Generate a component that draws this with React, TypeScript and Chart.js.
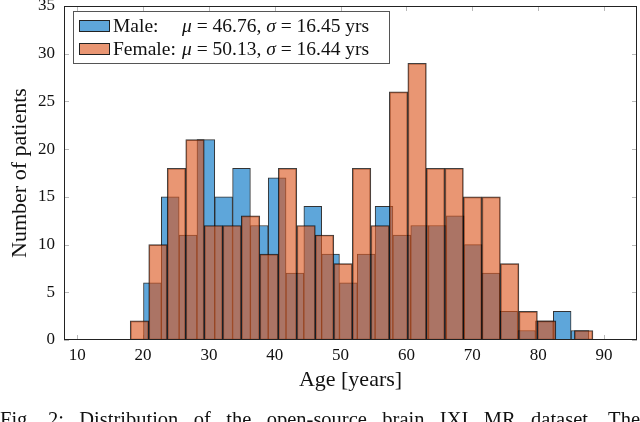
import React, { useEffect, useRef } from "react";
import { Chart, registerables } from "chart.js";

Chart.register(...registerables);

// ---- Data ----
const maleBinCenters = [
  21.42, 24.13, 26.83, 29.54, 32.24, 34.95, 37.65, 40.36, 43.06, 45.77, 48.47, 51.18, 53.88,
  56.59, 59.29, 62.0, 64.7, 67.41, 70.11, 72.82, 75.52, 78.23, 80.93, 83.64, 86.34,
];
const maleCounts = [6, 15, 11, 21, 15, 18, 12, 17, 7, 14, 9, 6, 9, 14, 11, 12, 12, 13, 10, 7, 3, 1, 2, 3, 1];

const femaleBinCenters = [
  19.46, 22.27, 25.08, 27.89, 30.7, 33.51, 36.32, 39.13, 41.94, 44.75, 47.56, 50.37, 53.18,
  55.99, 58.8, 61.61, 64.42, 67.23, 70.04, 72.85, 75.66, 78.47, 81.28, 84.09, 86.9,
];
const femaleCounts = [2, 10, 18, 21, 12, 12, 13, 9, 18, 12, 11, 8, 18, 12, 26, 29, 18, 18, 15, 15, 8, 3, 2, 0, 1];

const seriesNames = ["Male:", "Female:"];
const seriesMeans = [46.76, 50.13];
const seriesStds = [16.45, 16.44];

const xTicks = [10, 20, 30, 40, 50, 60, 70, 80, 90];
const yTicks = [0, 5, 10, 15, 20, 25, 30, 35];
const xLabel = "Age [years]";
const yLabel = "Number of patients";
const caption = "Fig. 2: Distribution of the open-source brain IXI MR dataset. The";

// ---- Styles ----
const FONT = "'Liberation Serif', 'Times New Roman', 'DejaVu Serif', serif";
const MALE_FILL = "rgb(94,166,218)";
const FEMALE_FILL = "rgba(220,86,29,0.62)";
const MALE_EDGE = "rgba(15,15,15,0.85)";
const FEMALE_EDGE = "rgba(0,0,0,0.75)";

const ticksPlugin = {
  id: "pgfTicks",
  beforeDatasetsDraw(chart: any) {
    const { ctx, chartArea, scales } = chart;
    const { left, right, top, bottom } = chartArea;
    const L = 5;
    ctx.save();
    ctx.strokeStyle = "rgba(0,0,0,0.28)";
    ctx.lineWidth = 1;
    ctx.beginPath();
    for (const v of xTicks) {
      const px = Math.round(scales.x.getPixelForValue(v)) + 0.5;
      ctx.moveTo(px, bottom);
      ctx.lineTo(px, bottom - L);
      ctx.moveTo(px, top);
      ctx.lineTo(px, top + L);
    }
    for (const v of yTicks) {
      const py = Math.round(scales.y.getPixelForValue(v)) + 0.5;
      ctx.moveTo(left, py);
      ctx.lineTo(left + L, py);
      ctx.moveTo(right, py);
      ctx.lineTo(right - L, py);
    }
    ctx.stroke();
    ctx.restore();
  },
  afterDatasetsDraw(chart: any) {
    const { ctx, chartArea } = chart;
    const { left, right, top, bottom } = chartArea;
    ctx.save();
    ctx.strokeStyle = "#222";
    ctx.lineWidth = 1;
    ctx.strokeRect(left + 0.5, top + 0.5, right - left - 1, bottom - top - 1);
    ctx.restore();
  },
};

const legendPlugin = {
  id: "insideLegend",
  afterDraw(chart: any) {
    const { ctx, chartArea } = chart;
    const bx = chartArea.left + 9;
    const by = chartArea.top + 5;
    const bw = 316;
    const bh = 52;
    ctx.save();
    ctx.fillStyle = "#fff";
    ctx.fillRect(bx, by, bw, bh);
    ctx.strokeStyle = "#555";
    ctx.lineWidth = 1;
    ctx.strokeRect(bx + 0.5, by + 0.5, bw, bh);
    chart.data.datasets.forEach((ds: any, i: number) => {
      const cy = by + 15 + i * 23;
      ctx.fillStyle = ds.backgroundColor;
      ctx.fillRect(bx + 6, cy - 6, 31, 12);
      ctx.strokeStyle = "#222";
      ctx.strokeRect(bx + 6.5, cy - 5.5, 30, 11);
      ctx.fillStyle = "#111";
      ctx.textBaseline = "middle";
      ctx.font = `19.5px ${FONT}`;
      ctx.fillText(seriesNames[i], bx + 40, cy + 1);
      let x = bx + 109;
      const parts: [string, boolean][] = [
        ["\u03bc", true],
        [` = ${seriesMeans[i].toFixed(2)}, `, false],
        ["\u03c3", true],
        [` = ${seriesStds[i].toFixed(2)} yrs`, false],
      ];
      for (const [t, it] of parts) {
        ctx.font = `${it ? "italic " : ""}19.5px ${FONT}`;
        ctx.fillText(t, x, cy + 1);
        x += ctx.measureText(t).width;
      }
    });
    ctx.restore();
  },
};

export default function App() {
  const canvasRef = useRef<HTMLCanvasElement | null>(null);

  useEffect(() => {
    if (!canvasRef.current) return;
    const chart = new Chart(canvasRef.current, {
      type: "bar",
      data: {
        datasets: [
          {
            label: seriesNames[0],
            data: maleBinCenters.map((x, i) => ({ x, y: maleCounts[i] })),
            backgroundColor: MALE_FILL,
            borderColor: MALE_EDGE,
            borderWidth: 1,
            borderSkipped: false,
            xAxisID: "x",
            grouped: false,
            barPercentage: 1,
            categoryPercentage: 1,
            order: 2,
          },
          {
            label: seriesNames[1],
            data: femaleBinCenters.map((x, i) => ({ x, y: femaleCounts[i] })),
            backgroundColor: FEMALE_FILL,
            borderColor: FEMALE_EDGE,
            borderWidth: 1,
            borderSkipped: false,
            xAxisID: "x2",
            grouped: false,
            barPercentage: 1,
            categoryPercentage: 1,
            order: 1,
          },
        ] as any,
      },
      options: {
        responsive: false,
        animation: false,
        devicePixelRatio: 1,
        layout: { padding: { top: 6, right: 3, left: 0, bottom: 0 } },
        plugins: { legend: { display: false }, tooltip: { enabled: false } },
        scales: {
          x: {
            type: "linear",
            min: 8,
            max: 95,
            offset: false,
            grid: { display: false, drawTicks: false, offset: false },
            border: { display: false },
            ticks: {
              stepSize: 10,
              includeBounds: false,
              padding: 5,
              color: "#111",
              font: { family: FONT, size: 17 },
              maxRotation: 0,
            },
            title: {
              display: true,
              text: xLabel,
              color: "#111",
              font: { family: FONT, size: 22 },
              padding: { top: 0, bottom: 29 },
            },
            afterFit: (s: any) => {
              s.height = 82;
              s.paddingLeft = 0;
              s.paddingRight = 0;
            },
          },
          x2: {
            type: "linear",
            display: false,
            min: 8,
            max: 95,
            offset: false,
            grid: { display: false, offset: false },
            ticks: { stepSize: 10, includeBounds: false },
          },
          y: {
            type: "linear",
            min: 0,
            max: 35,
            grid: { display: false, drawTicks: false },
            border: { display: false },
            ticks: {
              stepSize: 5,
              padding: 9,
              color: "#111",
              font: { family: FONT, size: 17 },
            },
            title: {
              display: true,
              text: yLabel,
              color: "#111",
              font: { family: FONT, size: 22 },
              padding: { top: 7, bottom: 0 },
            },
            afterFit: (s: any) => {
              s.width = 64;
              s.paddingTop = 0;
              s.paddingBottom = 0;
            },
          },
        },
      } as any,
      plugins: [ticksPlugin, legendPlugin],
    });
    return () => chart.destroy();
  }, []);

  return (
    <div
      style={{
        position: "absolute",
        left: 0,
        top: 0,
        width: 640,
        height: 422,
        overflow: "hidden",
        background: "#fff",
      }}
    >
      <canvas ref={canvasRef} width={640} height={422} style={{ display: "block" }} />
      <div
        style={{
          position: "absolute",
          left: 0,
          top: 409,
          width: 640,
          fontFamily: FONT,
          fontSize: 20.5,
          lineHeight: "20px",
          color: "#111",
          textAlign: "justify",
          textAlignLast: "justify" as any,
          whiteSpace: "nowrap",
        }}
      >
        {caption}
      </div>
    </div>
  );
}
